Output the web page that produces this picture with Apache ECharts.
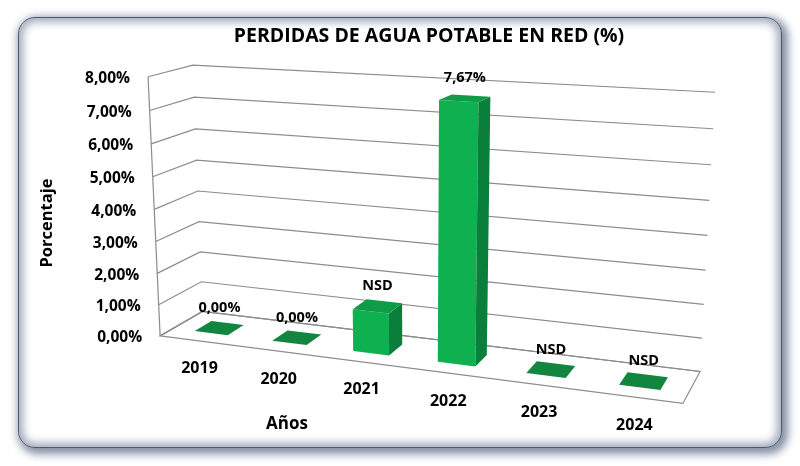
<!DOCTYPE html>
<html>
<head>
<meta charset="utf-8">
<title>Perdidas de agua potable en red</title>
<script src="https://cdn.jsdelivr.net/npm/echarts@6/dist/echarts.min.js"></script>
<style>
body{
margin:0;
background:#ffffff;
font-family:"Open Sans",Arial,sans-serif;
}
#frame{
position:absolute;
left:18px;
top:17px;
width:764px;
height:431px;
box-sizing:border-box;
border:1.5px solid #4d596c;
border-radius:17px;
background:#ffffff;
box-shadow:3px 3px 8px 3px rgba(100,114,140,0.8), inset 0 0 9px 4px rgba(110,124,150,0.65);
}
#chart{
position:absolute;
left:0;
top:0;
width:800px;
height:466px;
}
</style>
</head>
<body>
<div id="frame"></div>
<div id="chart"></div>
<script>

// data
const years = ["2019", "2020", "2021", "2022", "2023", "2024"]
const values = [0, 0, 1.3, 7.67, 0, 0]
const valueLabels = ["0,00%", "0,00%", "NSD", "7,67%", "NSD", "NSD"]
const tickValues = [0, 1, 2, 3, 4, 5, 6, 7, 8]
const tickLabels = ["0,00%", "1,00%", "2,00%", "3,00%", "4,00%", "5,00%", "6,00%", "7,00%", "8,00%"]

// 3d box of the plot: world (X along years, Y along value, Z back->front) to screen
const calib = [
  [[0, 0, 0], [201, 311]],
  [[1, 0, 0], [700, 372]],
  [[0, 1, 0], [194, 65]],
  [[1, 1, 0], [715, 92]],
  [[0, 0, 1], [161, 336]],
  [[1, 0, 1], [683, 403]],
  [[0, 1, 1], [147, 77]],
  [[1, 0.875, 0], [713, 129]],
  [[0, 0.125, 0], [202, 282]],
  [[1, 0.125, 0], [702, 338]]
]

const BAR_W = 0.43
const BAR_D = 0.4
const FRONT = "#0fb04f"
const SIDE = "#0a7e3b"
const TOP = "#109c46"
const FLAT = "#12853f"
const GRID = "#8c8c8c"
const FONT = '"Open Sans", Arial, sans-serif'

function fitCamera(pts){
  const rows = [], rhs = []
  for (const [[X, Y, Z], [px, py]] of pts){
    const x = px / 100, y = py / 100
    rows.push([X, Y, Z, 1, 0, 0, 0, 0, -x * X, -x * Y, -x * Z]); rhs.push(x)
    rows.push([0, 0, 0, 0, X, Y, Z, 1, -y * X, -y * Y, -y * Z]); rhs.push(y)
  }
  const n = 11
  const M = []
  for (let i = 0; i < n; i++){
    M.push(new Array(n + 1).fill(0))
    for (let j = 0; j < n; j++){
      for (let k = 0; k < rows.length; k++) M[i][j] += rows[k][i] * rows[k][j]
    }
    for (let k = 0; k < rows.length; k++) M[i][n] += rows[k][i] * rhs[k]
  }
  for (let c = 0; c < n; c++){
    let p = c
    for (let r = c + 1; r < n; r++) if (Math.abs(M[r][c]) > Math.abs(M[p][c])) p = r
    const t = M[c]; M[c] = M[p]; M[p] = t
    for (let r = 0; r < n; r++){
      if (r === c) continue
      const f = M[r][c] / M[c][c]
      for (let j = c; j <= n; j++) M[r][j] -= f * M[c][j]
    }
  }
  return M.map((r, i) => r[n] / r[i])
}

const cam = fitCamera(calib)

function P(X, Y, Z){
  const w = cam[8] * X + cam[9] * Y + cam[10] * Z + 1
  return [
    (cam[0] * X + cam[1] * Y + cam[2] * Z + cam[3]) / w * 100,
    (cam[4] * X + cam[5] * Y + cam[6] * Z + cam[7]) / w * 100
  ]
}

// axis fractions from the library's scales
function frac(params, api, i, v){
  const cs = params.coordSys
  const c = api.coord([i, v])
  return [(c[0] - cs.x) / cs.width, (cs.y + cs.height - c[1]) / cs.height]
}

function poly(points, fill){
  return { type: "polygon", shape: { points: points }, style: { fill: fill } }
}

function renderGrid(params, api){
  const i = params.dataIndex
  const Y = frac(params, api, 0, api.value(1))[1]
  const children = [
    { type: "polyline", shape: { points: [P(0, Y, 1), P(0, Y, 0), P(1, Y, 0)] },
      style: { stroke: GRID, lineWidth: 1.2, fill: null } }
  ]
  if (i === 0){
    children.push({ type: "polygon", shape: { points: [P(0, 0, 1), P(0, 0, 0), P(1, 0, 0), P(1, 0, 1)] },
      style: { stroke: GRID, lineWidth: 1.2, fill: null } })
  }
  if (i === tickValues.length - 1){
    children.push({ type: "line", shape: { x1: P(0, 0, 1)[0], y1: P(0, 0, 1)[1], x2: P(0, Y, 1)[0], y2: P(0, Y, 1)[1] },
      style: { stroke: GRID, lineWidth: 1.2 } })
  }
  const lp = P(0, Y, 1)
  children.push({ type: "text", style: { text: tickLabels[i], x: lp[0] - 18, y: lp[1] + 2,
    align: "right", verticalAlign: "middle", font: "bold 15.5px " + FONT, fill: "#000" } })
  return { type: "group", children: children }
}

function renderBar(params, api){
  const i = params.dataIndex
  const v = api.value(1)
  const [X, Y] = frac(params, api, i, v)
  const bw = api.size([1, 0])[0] / params.coordSys.width * BAR_W / 2
  const X0 = X - bw, X1 = X + bw
  const Z0 = 0.5 - BAR_D / 2, Z1 = 0.5 + BAR_D / 2
  const children = []
  if (v > 0){
    children.push(poly([P(X0, 0, Z1), P(X1, 0, Z1), P(X1, Y, Z1), P(X0, Y, Z1)], FRONT))
    children.push(poly([P(X1, 0, Z1), P(X1, 0, Z0), P(X1, Y, Z0), P(X1, Y, Z1)], SIDE))
  }
  children.push(poly([P(X0, Y, Z1), P(X1, Y, Z1), P(X1, Y, Z0), P(X0, Y, Z0)], v > 0 ? TOP : FLAT))
  const tp = P(X, Y, 0.5)
  children.push({ type: "text", style: { text: valueLabels[i], x: tp[0], y: tp[1] - 20,
    align: "center", verticalAlign: "middle", font: "bold 14.5px " + FONT, fill: "#000" } })
  const cp = P(X, 0, 1)
  children.push({ type: "text", style: { text: years[i], x: cp[0] + 1, y: cp[1] + 28,
    align: "center", verticalAlign: "middle", font: "bold 16px " + FONT, fill: "#000" } })
  return { type: "group", children: children }
}

const chart = echarts.init(document.getElementById("chart"))

chart.setOption({
  animation: false,
  grid: { left: 0, right: 0, top: 0, bottom: 0 },
  xAxis: { type: "category", data: years, show: false },
  yAxis: { type: "value", min: 0, max: 8, interval: 1, show: false },
  graphic: [
    { type: "text", x: 429, y: 36, style: { text: "PERDIDAS DE AGUA POTABLE EN RED (%)",
      align: "center", verticalAlign: "middle", font: "bold 19.5px " + FONT, fill: "#000" } },
    { type: "text", x: 47, y: 223, rotation: Math.PI / 2, style: { text: "Porcentaje",
      align: "center", verticalAlign: "middle", font: "bold 16.5px " + FONT, fill: "#000" } },
    { type: "text", x: 287, y: 424, style: { text: "Años",
      align: "center", verticalAlign: "middle", font: "bold 17px " + FONT, fill: "#000" } }
  ],
  series: [
    {
      type: "custom",
      renderItem: renderGrid,
      clip: false,
      silent: true,
      data: tickValues.map(t => [0, t])
    },
    {
      type: "custom",
      renderItem: renderBar,
      clip: false,
      data: values.map((v, i) => [i, v])
    }
  ]
})

</script>
</body>
</html>
